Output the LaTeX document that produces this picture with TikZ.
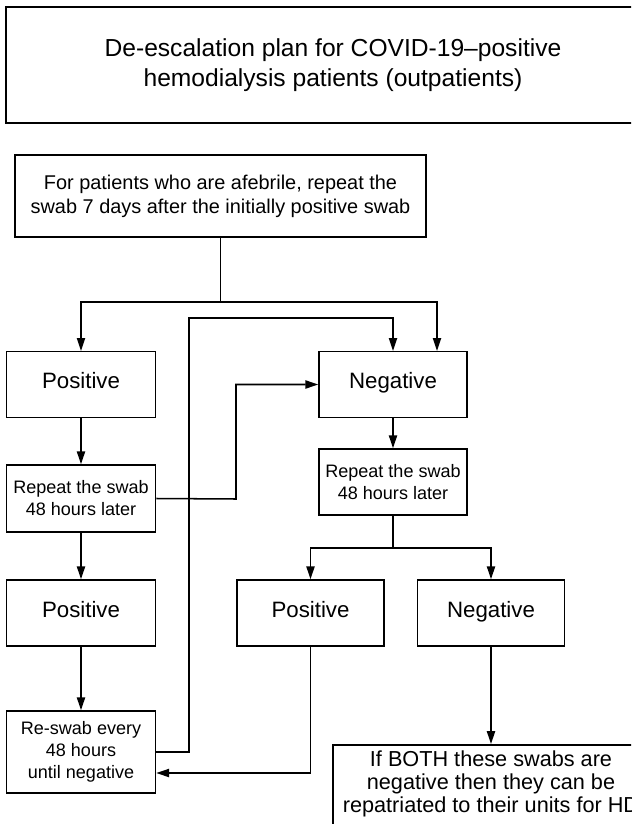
\documentclass[tikz,border=0pt]{standalone}
\usepackage{fontspec}
\setmainfont{Liberation Sans}
\usepackage{tikz}
\usetikzlibrary{arrows.meta, positioning, calc}

\begin{document}
\begin{tikzpicture}[>={Triangle[length=11pt,width=7pt]}, x=0.03cm, y=-0.03cm,
    box/.style={draw, line width=1.3pt, align=center, inner sep=0pt},
    result/.style={box, font=\fontsize{19}{22}\selectfont, text height=0.92em, text depth=0.2em},
    note/.style={box, font=\fontsize{15.4}{18.8}\selectfont},
    flow/.style={line width=1.3pt}]
  \useasboundingbox (0,0) rectangle (631,824);
  \clip (0,0) rectangle (631,824);
  % heading
  \node[box, minimum width=19.62cm, minimum height=3.48cm,
        font=\fontsize{21}{25.6}\selectfont] (title) at (333,65)
    {De-escalation plan for COVID-19--positive\\hemodialysis patients (outpatients)};
  \node[box, minimum width=12.33cm, minimum height=2.46cm,
        font=\fontsize{17}{20.5}\selectfont] (start) at (220.5,196)
    {For patients who are afebrile, repeat the\\swab 7 days after the initially positive swab};
  % left column
  \node[result, minimum width=4.47cm, minimum height=1.97cm] (pos1) at (81,384.5) {Positive};
  \node[note, minimum width=4.47cm, minimum height=2.01cm] (rep1) at (81,498.5) {Repeat the swab\\48 hours later};
  \node[result, minimum width=4.47cm, minimum height=1.98cm] (pos3) at (81,613) {Positive};
  \node[note, minimum width=4.47cm, minimum height=2.46cm] (reswab) at (81,752) {Re-swab every\\48 hours\\until negative};
  % right column
  \node[result, minimum width=4.44cm, minimum height=1.97cm] (neg1) at (393,384.5) {Negative};
  \node[note, minimum width=4.44cm, minimum height=1.98cm] (rep2) at (393,482) {Repeat the swab\\48 hours later};
  \node[result, minimum width=4.41cm, minimum height=1.98cm] (pos2) at (310.5,613) {Positive};
  \node[result, minimum width=4.41cm, minimum height=1.98cm] (neg2) at (491,613) {Negative};
  \node[box, minimum width=9.48cm, anchor=north, inner ysep=5.5pt, text depth=60pt,
        font=\fontsize{18.5}{19.6}\selectfont] (final) at (491,744)
    {If BOTH these swabs are\\negative then they can be\\repatriated to their units for HD};
  % connectors
  \coordinate (fork1) at (220.5,302);
  \coordinate (fork2) at (393,548);
  \draw[flow] (start.south) -- (fork1);
  \draw[flow, ->] (fork1) -| (pos1.north);
  \draw[flow, ->] (fork1) -| ($(neg1.north)+(44,0)$);
  \draw[flow, ->] (pos1) -- (rep1);
  \draw[flow, ->] (rep1) -- (pos3);
  \draw[flow, ->] (pos3) -- (reswab);
  \draw[flow, ->] (reswab.east) -- (189,752) |- (393,318) -- (neg1.north);
  \draw[flow, ->] (rep1.east) -- (236,499) |- (neg1.west);
  \draw[flow, ->] (neg1) -- (rep2);
  \draw[flow] (rep2.south) -- (fork2);
  \draw[flow, ->] (fork2) -| (pos2.north);
  \draw[flow, ->] (fork2) -| (neg2.north);
  \draw[flow, ->] (pos2.south) |- ($(reswab.east)+(0,21)$);
  \draw[flow, ->] (neg2) -- (final);
\end{tikzpicture}
\end{document}
